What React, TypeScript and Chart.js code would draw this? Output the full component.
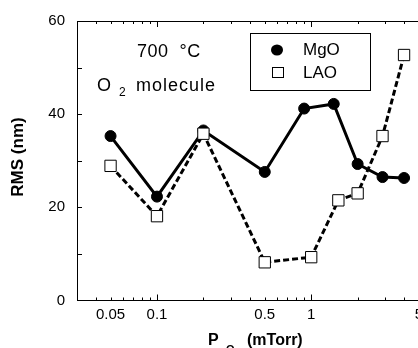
import React, { useEffect, useRef } from "react";
import { Chart, registerables } from "chart.js";

Chart.register(...registerables);

// Data
const mgoPressure = [0.05, 0.1, 0.2, 0.5, 0.9, 1.4, 2, 2.9, 4];
const mgoRMS = [35.3, 22.3, 36.5, 27.6, 41.2, 42.2, 29.3, 26.5, 26.3];
const laoPressure = [0.05, 0.1, 0.2, 0.5, 1, 1.5, 2, 2.9, 4];
const laoRMS = [28.9, 18.1, 35.8, 8.2, 9.3, 21.5, 23.0, 35.3, 52.7];

const xTickLabels = [0.05, 0.1, 0.5, 1, 5];
const xMinorTicks = [0.04, 0.05, 0.06, 0.07, 0.08, 0.09, 0.2, 0.3, 0.4, 0.5, 0.6, 0.7, 0.8, 0.9, 2, 3, 4];
const xMajorTicks = [0.1, 1];
const yTickLabels = [0, 20, 40, 60];
const yInnerTicks = [10, 20, 30, 40, 50];

const FONT = "'Liberation Sans', Arial, Helvetica, sans-serif";

const overlayPlugin = {
  id: "overlay",
  afterDraw(chart: any) {
    const { ctx, chartArea } = chart;
    const { left, right, top, bottom } = chartArea;
    const x = chart.scales.x;
    const y = chart.scales.y;
    ctx.save();
    ctx.strokeStyle = "#000";
    ctx.lineWidth = 1;
    const line = (x1: number, y1: number, x2: number, y2: number) => {
      ctx.beginPath();
      ctx.moveTo(x1, y1);
      ctx.lineTo(x2, y2);
      ctx.stroke();
    };
    // top and right frame
    line(left, Math.round(top) + 0.5, right, Math.round(top) + 0.5);
    line(Math.round(right) + 0.5, top, Math.round(right) + 0.5, bottom);
    // y inner ticks
    for (const v of yInnerTicks) {
      const py = Math.round(y.getPixelForValue(v)) + 0.5;
      line(left, py, left + 5, py);
    }
    // x inner ticks (bottom and top)
    const drawX = (v: number, len: number) => {
      const px = Math.round(x.getPixelForValue(v)) + 0.5;
      line(px, bottom, px, bottom - len);
      line(px, top, px, top + len);
    };
    xMinorTicks.forEach((v) => drawX(v, 3));
    xMajorTicks.forEach((v) => drawX(v, 6));

    // annotations
    ctx.fillStyle = "#000";
    ctx.textBaseline = "alphabetic";
    ctx.textAlign = "left";
    ctx.font = `18px ${FONT}`;
    (ctx as any).letterSpacing = "0.5px";
    ctx.fillText("700  °C", 137, 57);
    ctx.fillText("O", 97, 91);
    ctx.font = `12px ${FONT}`;
    ctx.fillText("2", 119, 96);
    ctx.font = `18px ${FONT}`;
    (ctx as any).letterSpacing = "1px";
    ctx.fillText("molecule", 136, 91);
    (ctx as any).letterSpacing = "0px";

    // legend
    ctx.strokeRect(250.5, 33.5, 120, 57);
    ctx.beginPath();
    ctx.ellipse(277, 50, 6, 5.5, 0, 0, Math.PI * 2);
    ctx.fill();
    ctx.fillStyle = "#fff";
    ctx.fillRect(272.5, 67.5, 11, 10);
    ctx.strokeRect(272.5, 67.5, 11, 10);
    ctx.fillStyle = "#000";
    ctx.textBaseline = "middle";
    ctx.font = `17px ${FONT}`;
    ctx.fillText("MgO", 303, 50);
    ctx.fillText("LAO", 303, 73);

    // axis titles
    ctx.font = `bold 16px ${FONT}`;
    ctx.textBaseline = "alphabetic";
    ctx.fillText("P", 208, 345);
    ctx.font = `bold 11px ${FONT}`;
    ctx.fillText("O", 226, 353);
    ctx.fillText("2", 235, 356);
    ctx.font = `bold 16px ${FONT}`;
    ctx.fillText("(mTorr)", 247, 345);

    ctx.save();
    ctx.translate(18, 157);
    ctx.rotate(-Math.PI / 2);
    ctx.textAlign = "center";
    ctx.textBaseline = "middle";
    ctx.font = `bold 17px ${FONT}`;
    ctx.fillText("RMS (nm)", 0, 0);
    ctx.restore();

    ctx.restore();
  },
};

export default function App() {
  const ref = useRef<HTMLCanvasElement | null>(null);

  useEffect(() => {
    document.body.style.margin = "0";
    const canvas = ref.current;
    if (!canvas) return;
    const chart = new Chart(canvas, {
      type: "line",
      data: {
        datasets: [
          {
            label: "MgO",
            data: mgoPressure.map((p, i) => ({ x: p, y: mgoRMS[i] })),
            borderColor: "#000",
            backgroundColor: "#000",
            borderWidth: 3,
            pointStyle: "circle",
            pointRadius: 5.5,
            pointBackgroundColor: "#000",
            pointBorderColor: "#000",
            pointBorderWidth: 1,
            tension: 0,
            order: 1,
          },
          {
            label: "LAO",
            data: laoPressure.map((p, i) => ({ x: p, y: laoRMS[i] })),
            borderColor: "#000",
            backgroundColor: "#fff",
            borderWidth: 3,
            borderDash: [6, 3],
            pointStyle: "rect",
            pointRadius: 8,
            pointBackgroundColor: "#fff",
            pointBorderColor: "#000",
            pointBorderWidth: 1,
            tension: 0,
            order: 0,
          },
        ],
      },
      options: {
        responsive: false,
        animation: false,
        events: [],
        layout: { padding: { left: 0, top: 21, right: 21, bottom: 0 } },
        plugins: {
          legend: { display: false },
          tooltip: { enabled: false },
          title: { display: false },
        },
        scales: {
          x: {
            type: "logarithmic",
            min: 0.0303,
            max: 5,
            grid: { display: false, drawTicks: false },
            border: { display: true, color: "#000", width: 1 },
            afterBuildTicks: (scale: any) => {
              scale.ticks = xTickLabels.map((v) => ({ value: v }));
            },
            afterFit: (scale: any) => {
              scale.height = 47.5;
            },
            ticks: {
              autoSkip: false,
              maxRotation: 0,
              minRotation: 0,
              padding: 5,
              color: "#000",
              font: { family: FONT, size: 15 },
              callback: (v: any) => String(v),
            },
          },
          y: {
            type: "linear",
            min: 0,
            max: 60,
            grid: { display: false, drawTicks: false },
            border: { display: true, color: "#000", width: 1 },
            afterBuildTicks: (scale: any) => {
              scale.ticks = yTickLabels.map((v) => ({ value: v }));
            },
            afterFit: (scale: any) => {
              scale.width = 77;
            },
            ticks: {
              padding: 12,
              color: "#000",
              font: { family: FONT, size: 15 },
              callback: (v: any) => String(v),
            },
          },
        },
      },
      plugins: [overlayPlugin],
    });
    return () => chart.destroy();
  }, []);

  return (
    <div style={{ width: 418, height: 348, overflow: "hidden", position: "relative", background: "#fff" }}>
      <canvas ref={ref} width={440} height={348} style={{ width: 440, height: 348, display: "block" }} />
    </div>
  );
}
